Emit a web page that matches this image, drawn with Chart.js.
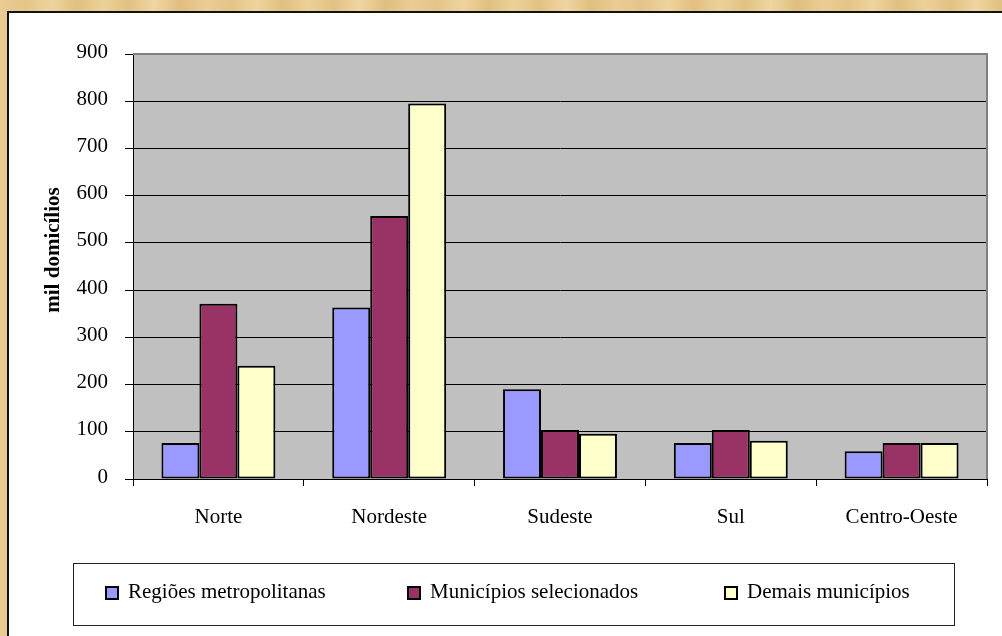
<!DOCTYPE html>
<html>
<head>
<meta charset="utf-8">
<script src="https://cdn.jsdelivr.net/npm/chart.js@4"></script>
<style>
  html, body { margin: 0; padding: 0; background: #E6C98E; }
  #wrap { width: 1002px; height: 636px; position: relative; }
  canvas { display: block; }
</style>
</head>
<body>
<div id="wrap"><canvas id="c" width="1002" height="636"></canvas></div>
<script>
const categories = ['Norte', 'Nordeste', 'Sudeste', 'Sul', 'Centro-Oeste'];
const seriesNames = ['Regiões metropolitanas', 'Municípios selecionados', 'Demais municípios'];
const regioesMetropolitanas = [76, 363, 190, 76, 59];
const municipiosSelecionados = [371, 557, 104, 104, 76];
const demaisMunicipios = [240, 795, 96, 81, 76];
const yTicks = [0, 100, 200, 300, 400, 500, 600, 700, 800, 900];
const yAxisTitle = 'mil domicílios';

const colors = ['#9999FF', '#993366', '#FFFFCC'];
const serif = '"Liberation Serif", "Times New Roman", serif';

const bgPlugin = {
  id: 'bg',
  beforeDraw(chart) {
    const ctx = chart.ctx;
    const W = chart.width, H = chart.height;
    ctx.save();
    const g = ctx.createLinearGradient(0, 0, W, 0);
    const shades = ['#E9CD93', '#E2C283', '#EDD49E', '#E0BF7F', '#EBD198', '#E4C588', '#EED6A2', '#E1C07F'];
    for (let i = 0; i < 40; i++) g.addColorStop(i / 39, shades[(i * 5) % shades.length]);
    ctx.fillStyle = g;
    ctx.fillRect(0, 0, W, H);
    ctx.fillStyle = '#FFFFFF';
    ctx.fillRect(8, 12, W - 8, H - 12);
    ctx.strokeStyle = '#111';
    ctx.lineWidth = 2;
    ctx.beginPath();
    ctx.moveTo(8, H);
    ctx.lineTo(8, 12);
    ctx.lineTo(W, 12);
    ctx.stroke();
    const a = chart.chartArea;
    ctx.fillStyle = '#C0C0C0';
    ctx.fillRect(a.left, a.top, a.right - a.left, a.bottom - a.top);
    ctx.restore();
  },
  beforeDatasetsDraw(chart) {
    const ctx = chart.ctx;
    const a = chart.chartArea;
    ctx.save();
    ctx.strokeStyle = '#808080';
    ctx.lineWidth = 2;
    ctx.beginPath();
    ctx.moveTo(a.left, a.top);
    ctx.lineTo(a.right, a.top);
    ctx.lineTo(a.right, a.bottom);
    ctx.stroke();
    ctx.restore();
  },
  afterDraw(chart) {
    const ctx = chart.ctx;
    ctx.save();
    ctx.translate(54, 250);
    ctx.rotate(-Math.PI / 2);
    ctx.font = 'bold 21px ' + serif;
    ctx.fillStyle = '#000';
    ctx.textAlign = 'center';
    ctx.textBaseline = 'middle';
    ctx.fillText(yAxisTitle, 0, 0);
    ctx.restore();

    ctx.save();
    ctx.strokeStyle = '#222';
    ctx.lineWidth = 1;
    ctx.strokeRect(73.5, 563.5, 881, 62);
    const itemX = [105, 407, 724];
    ctx.font = '21px ' + serif;
    ctx.textBaseline = 'middle';
    ctx.textAlign = 'left';
    chart.data.datasets.forEach((ds, i) => {
      const x = itemX[i];
      ctx.fillStyle = ds.backgroundColor;
      ctx.fillRect(x, 586, 14, 14);
      ctx.strokeStyle = '#000';
      ctx.lineWidth = 2;
      ctx.strokeRect(x + 1, 587, 12, 12);
      ctx.fillStyle = '#000';
      ctx.fillText(ds.label, x + 23, 592);
    });
    ctx.restore();
  }
};

const seriesValues = [regioesMetropolitanas, municipiosSelecionados, demaisMunicipios];

new Chart(document.getElementById('c'), {
  type: 'bar',
  data: {
    labels: categories,
    datasets: seriesNames.map((name, i) => ({
      label: name,
      data: seriesValues[i],
      backgroundColor: colors[i],
      borderColor: '#000',
      borderWidth: 2,
      borderSkipped: false,
      categoryPercentage: 0.667,
      barPercentage: 1.0
    }))
  },
  options: {
    responsive: false,
    devicePixelRatio: 1,
    animation: false,
    layout: { padding: { left: 0, top: 54, right: 15, bottom: 0 } },
    plugins: { legend: { display: false }, tooltip: { enabled: false }, title: { display: false } },
    scales: {
      x: {
        grid: { display: true, drawOnChartArea: false, drawTicks: true, tickLength: 7, color: '#000', lineWidth: 1, offset: true },
        border: { display: true, color: '#000', width: 1 },
        ticks: { font: { family: serif, size: 21 }, color: '#000', padding: 19, maxRotation: 0, autoSkip: false },
        afterFit(scale) { scale.height = 636 - 479; }
      },
      y: {
        min: 0,
        max: 900,
        afterBuildTicks(scale) { scale.ticks = yTicks.map(v => ({ value: v })); },
        grid: { display: true, drawTicks: true, tickLength: 8, color: '#000', lineWidth: 1 },
        border: { display: true, color: '#000', width: 1 },
        ticks: { font: { family: serif, size: 21 }, color: '#000', padding: 17, labelOffset: -2 },
        afterFit(scale) { scale.width = 133; }
      }
    }
  },
  plugins: [bgPlugin]
});
</script>
</body>
</html>
